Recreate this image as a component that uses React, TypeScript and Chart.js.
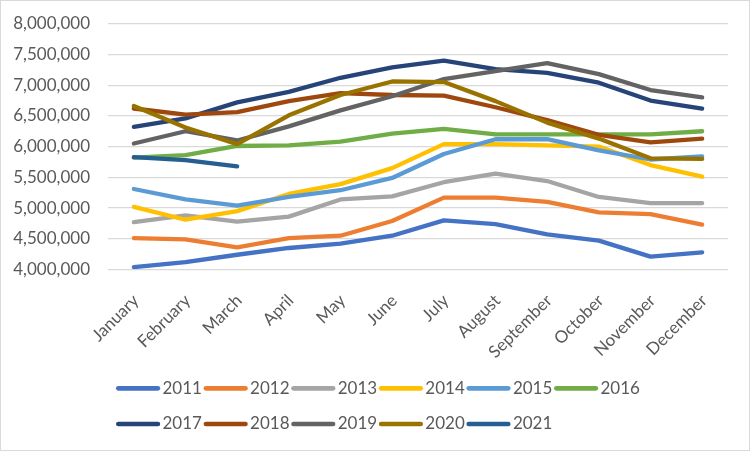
import React, { useEffect, useRef } from "react";
import { Chart, registerables } from "chart.js";

Chart.register(...registerables);

const MONTHS = ["January", "February", "March", "April", "May", "June", "July", "August", "September", "October", "November", "December"];
const YEARS = ["2011", "2012", "2013", "2014", "2015", "2016", "2017", "2018", "2019", "2020", "2021"];
const COLORS = ["#4472C4", "#ED7D31", "#A5A5A5", "#FFC000", "#5B9BD5", "#70AD47", "#264478", "#9E480E", "#636363", "#997300", "#255E91"];

const y2011 = [4040000, 4120000, 4240000, 4350000, 4420000, 4550000, 4800000, 4740000, 4570000, 4470000, 4210000, 4280000];
const y2012 = [4510000, 4490000, 4360000, 4510000, 4550000, 4790000, 5170000, 5170000, 5100000, 4930000, 4900000, 4730000];
const y2013 = [4770000, 4880000, 4780000, 4860000, 5140000, 5190000, 5420000, 5560000, 5440000, 5180000, 5080000, 5080000];
const y2014 = [5020000, 4810000, 4950000, 5230000, 5390000, 5650000, 6040000, 6040000, 6020000, 6000000, 5700000, 5510000];
const y2015 = [5310000, 5140000, 5040000, 5180000, 5290000, 5490000, 5880000, 6120000, 6120000, 5940000, 5790000, 5840000];
const y2016 = [5820000, 5860000, 6010000, 6020000, 6080000, 6210000, 6290000, 6200000, 6200000, 6200000, 6200000, 6250000];
const y2017 = [6320000, 6460000, 6720000, 6890000, 7120000, 7290000, 7400000, 7260000, 7200000, 7040000, 6750000, 6620000];
const y2018 = [6620000, 6520000, 6560000, 6740000, 6870000, 6840000, 6830000, 6640000, 6430000, 6190000, 6070000, 6130000];
const y2019 = [6050000, 6250000, 6100000, 6330000, 6590000, 6820000, 7100000, 7230000, 7360000, 7180000, 6920000, 6800000];
const y2020 = [6660000, 6310000, 6040000, 6510000, 6840000, 7060000, 7050000, 6740000, 6390000, 6130000, 5810000, 5800000];
const y2021 = [5830000, 5780000, 5680000, null, null, null, null, null, null, null, null, null];

const SERIES = [y2011, y2012, y2013, y2014, y2015, y2016, y2017, y2018, y2019, y2020, y2021];

const Y_MIN = 4000000;
const Y_MAX = 8000000;
const Y_STEP = 500000;

const FONT_FAMILY = "Lato, 'Open Sans', sans-serif";
const FONT_SIZE = 17;
const TEXT_COLOR = "#595959";
const LINE_WIDTH = 4.3;

const legendPlugin = {
  id: "excelLegend",
  afterDraw(chart: any) {
    const ctx = chart.ctx as CanvasRenderingContext2D;
    ctx.save();
    ctx.font = `${FONT_SIZE}px ${FONT_FAMILY}`;
    const lineLen = 39.5;
    const capPad = LINE_WIDTH / 2;
    const gapText = 2.5;
    const pitch = 87.6;
    const perRow = 6;
    const rowW = perRow * pitch;
    const startX = (chart.width - rowW) / 2 + 3;
    const rowYs = [388.3, 424];
    ctx.textBaseline = "middle";
    ctx.textAlign = "left";
    chart.data.datasets.forEach((d: any, i: number) => {
      const row = Math.floor(i / perRow);
      const col = i % perRow;
      const x0 = startX + col * pitch;
      const y = rowYs[row];
      ctx.strokeStyle = d.borderColor;
      ctx.lineWidth = LINE_WIDTH + 0.4;
      ctx.lineCap = "round";
      ctx.beginPath();
      ctx.moveTo(x0 + capPad, y);
      ctx.lineTo(x0 + capPad + lineLen, y);
      ctx.stroke();
      ctx.fillStyle = TEXT_COLOR;
      ctx.fillText(d.label, x0 + capPad * 2 + lineLen + gapText, y);
    });
    ctx.restore();
  },
};

export default function App() {
  const canvasRef = useRef<HTMLCanvasElement | null>(null);

  useEffect(() => {
    if (!canvasRef.current) return;
    const n = YEARS.length;
    const chart = new Chart(canvasRef.current, {
      type: "line",
      data: {
        labels: MONTHS,
        datasets: YEARS.map((yr, i) => ({
          label: yr,
          data: SERIES[i],
          borderColor: COLORS[i],
          backgroundColor: COLORS[i],
          borderWidth: LINE_WIDTH,
          borderCapStyle: "round" as const,
          borderJoinStyle: "round" as const,
          pointRadius: 0,
          pointHoverRadius: 0,
          tension: 0,
          fill: false,
          spanGaps: false,
          order: n - i,
        })),
      },
      options: {
        animation: false,
        responsive: true,
        maintainAspectRatio: false,
        layout: { padding: { left: 0, right: 24, top: 23.7, bottom: 0 } },
        plugins: {
          legend: { display: false },
          tooltip: { enabled: false },
          title: { display: false },
        },
        scales: {
          x: {
            type: "category",
            offset: true,
            grid: { display: false },
            border: { display: false },
            ticks: {
              maxRotation: 45,
              minRotation: 45,
              autoSkip: false,
              padding: 13,
              labelOffset: 2,
              color: TEXT_COLOR,
              font: { family: FONT_FAMILY, size: FONT_SIZE },
            },
            afterFit: (scale: any) => {
              scale.height = 452 - 269.5;
            },
          },
          y: {
            min: Y_MIN,
            max: Y_MAX,
            grid: { color: "#d9d9d9", lineWidth: 1.2, drawTicks: true, tickLength: 15, tickColor: "rgba(0,0,0,0)" },
            border: { display: false },
            ticks: {
              stepSize: Y_STEP,
              padding: 3,
              color: TEXT_COLOR,
              font: { family: FONT_FAMILY, size: FONT_SIZE },
              callback: (v: any) => Number(v).toLocaleString("en-US"),
            },
            afterFit: (scale: any) => {
              scale.width = 108;
            },
          },
        },
      },
      plugins: [legendPlugin],
    });
    return () => chart.destroy();
  }, []);

  return (
    <div style={{ position: "fixed", left: 0, top: 0, width: 752, height: 452, background: "#fff" }}>
      <canvas ref={canvasRef} />
      <div
        style={{
          position: "absolute",
          left: 0,
          top: 0,
          width: 750,
          height: 451,
          boxSizing: "border-box",
          border: "1px solid #d9d9d9",
          pointerEvents: "none",
        }}
      />
    </div>
  );
}
